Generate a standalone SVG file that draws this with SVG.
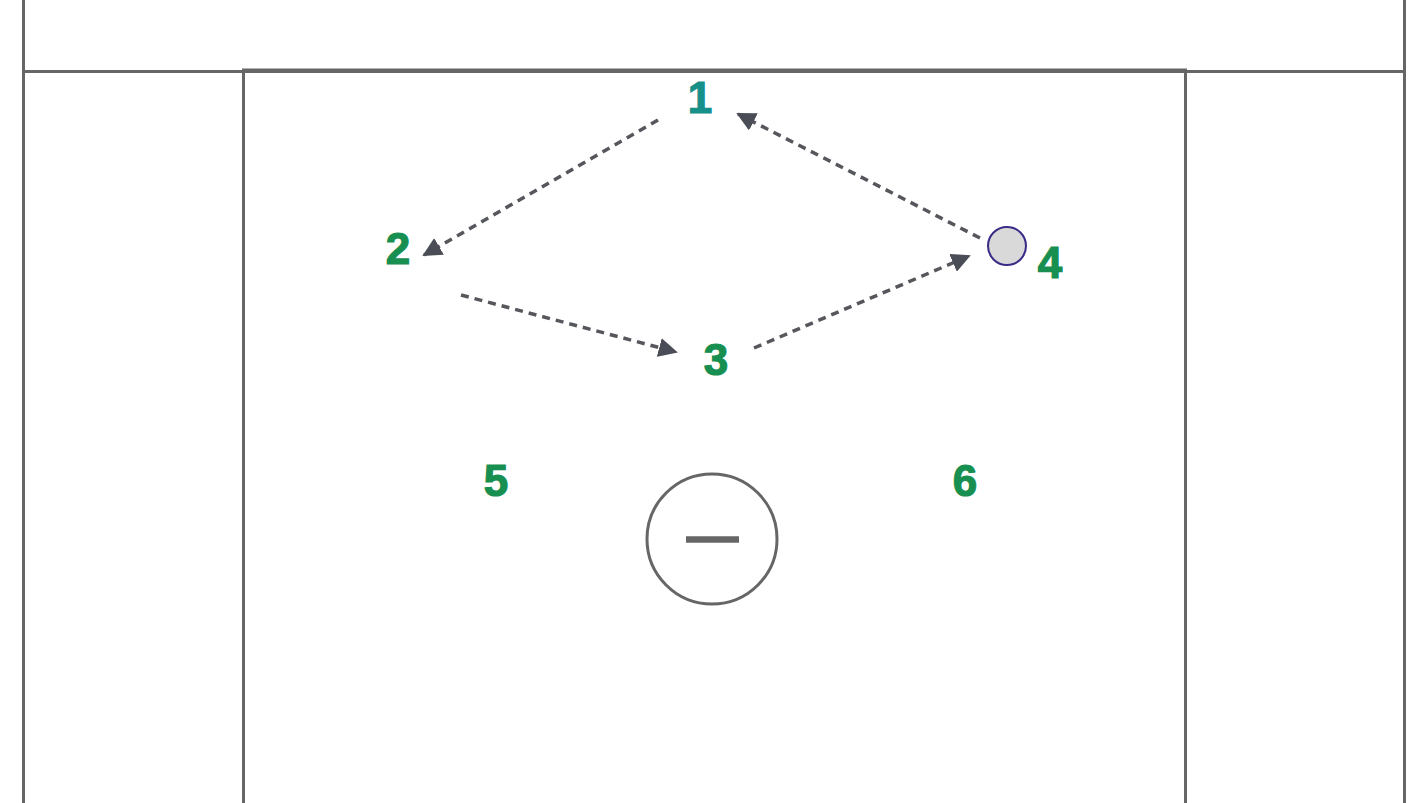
<svg xmlns="http://www.w3.org/2000/svg" width="1428" height="803" viewBox="0 0 1428 803">
<style>
.frame{fill:none;stroke:#666;stroke-width:3}
.num{font-family:"Liberation Sans",Arial,sans-serif;font-weight:bold;font-size:44px;fill:#178f50;stroke:#178f50;stroke-width:1.2;text-anchor:middle}
.teal{fill:#17908a;stroke:#17908a}
.dash{fill:none;stroke:#55575c;stroke-width:3.5;stroke-dasharray:8 6;marker-end:url(#ah)}
</style>
<defs>
<marker id="ah" viewBox="0 0 10 10" refX="9" refY="5" markerWidth="5.5" markerHeight="5.5" orient="auto" markerUnits="strokeWidth">
<path d="M0,0 L10,5 L0,10 Z" fill="#4a4d55"/>
</marker>
</defs>
<rect width="1428" height="803" fill="#fff"/>
<g id="field">
<line class="frame" x1="23.5" y1="0" x2="23.5" y2="803"/>
<line class="frame" x1="1404.5" y1="0" x2="1404.5" y2="803"/>
<line class="frame" x1="23" y1="71.5" x2="1405" y2="71.5"/>
<path class="frame" d="M243.5,803 V70 H1185.5 V803" stroke-width="3.5"/>
</g>
<g id="connectors">
<line class="dash" x1="658" y1="120" x2="424" y2="255"/>
<line class="dash" x1="461" y1="295" x2="676" y2="352"/>
<line class="dash" x1="754" y1="348" x2="969" y2="256"/>
<line class="dash" x1="980" y1="238" x2="738" y2="114"/>
</g>
<g id="n1"><text class="num teal" x="700" y="113">1</text></g>
<g id="n2"><text class="num" x="398" y="264">2</text></g>
<g id="n3"><text class="num" x="716" y="375">3</text></g>
<g id="n4">
<circle cx="1007" cy="246" r="19" fill="#d9d9d9" stroke="#3b2a86" stroke-width="2"/>
<text class="num" x="1050" y="278">4</text>
</g>
<g id="n5"><text class="num" x="496" y="496">5</text></g>
<g id="n6"><text class="num" x="965" y="496">6</text></g>
<g id="goal">
<circle cx="712" cy="539" r="65" fill="none" stroke="#666" stroke-width="3"/>
<line x1="686" y1="539.5" x2="739" y2="539.5" stroke="#666" stroke-width="6.5"/>
</g>
</svg>
